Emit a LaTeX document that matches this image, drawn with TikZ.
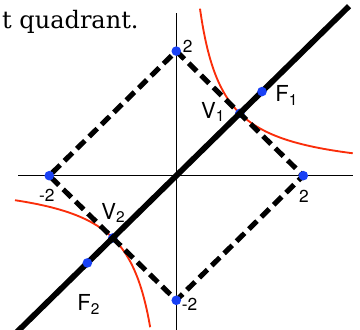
\documentclass[tikz,border=0pt]{standalone}
\usepackage{fontspec}
\setsansfont{TeX Gyre Heros}
\newfontfamily\capserif{DejaVu Serif}
\usepackage{xcolor}
\usepackage{tikz}
\definecolor{ptblue}{RGB}{25,65,245}
\definecolor{hypred}{RGB}{250,45,10}

\begin{document}
\begin{tikzpicture}[x=47.6pt,y=46.7pt,
  axis/.style={line width=0.9pt},
  rim/.style={line width=3.8pt,dash pattern=on 8.5pt off 4.5pt},
  diag/.style={line width=4.3pt},
  hyp/.style={hypred,line width=1.4pt},
  ptv/.style={circle,fill=ptblue,inner sep=0pt,minimum size=7.2pt},
  num/.style={font=\sffamily\fontsize{13}{14}\selectfont,inner sep=0pt},
  lbl/.style={font=\sffamily\fontsize{16.5}{18}\selectfont,inner sep=0pt}]
  \useasboundingbox (-2.776,-2.461) rectangle (2.893,2.820);
  \node[anchor=base west,inner sep=0pt,font=\capserif\fontsize{18}{20}\selectfont] (cap) at (-2.745,2.37) {t quadrant.};
  \coordinate (T) at (0,2); \coordinate (R) at (2,0);
  \coordinate (B) at (0,-2); \coordinate (L) at (-2,0);
  \coordinate (V1) at (1,1); \coordinate (V2) at (-1,-1);
  \coordinate (F1) at (1.35,1.35); \coordinate (F2) at (-1.4,-1.4);
  \coordinate (xl) at (-2.49,0); \coordinate (xr) at (2.78,0);
  \coordinate (yb) at (0,-2.5); \coordinate (yt) at (0,2.61);
  \coordinate (dl) at (-2.52,-2.52); \coordinate (du) at (2.72,2.72);
  \draw[axis] (xl)--(xr);
  \draw[axis] (yb)--(yt);
  \draw[hyp,domain=0.373:2.78,samples=80,smooth] plot (\x,{1/\x});
  \draw[hyp,domain=-2.54:-0.41,samples=80,smooth] plot (\x,{1/\x});
  \node[ptv] (pV1) at (V1) {}; \node[ptv] (pV2) at (V2) {};
  \draw[rim] (T)--(R)--(B)--(L)--cycle;
  \draw[diag] (dl)--(du);
  \node[ptv] (pT) at (T) {}; \node[ptv] (pR) at (R) {};
  \node[ptv] (pB) at (B) {}; \node[ptv] (pL) at (L) {};
  \node[ptv] (pF1) at (F1) {}; \node[ptv] (pF2) at (F2) {};
  \node[num] (nT) at (0.18,2.07) {2}; \node[num] (nR) at (2.01,-0.33) {2};
  \node[num] (nL) at (-2.04,-0.31) {-2}; \node[num] (nB) at (0.21,-2.06) {-2};
  \node[lbl] (lV1) at (0.58,1.02) {V\textsubscript{1}};
  \node[lbl] (lF1) at (1.74,1.29) {F\textsubscript{1}};
  \node[lbl] (lV2) at (-0.99,-0.60) {V\textsubscript{2}};
  \node[lbl] (lF2) at (-1.38,-2.07) {F\textsubscript{2}};
\end{tikzpicture}
\end{document}
